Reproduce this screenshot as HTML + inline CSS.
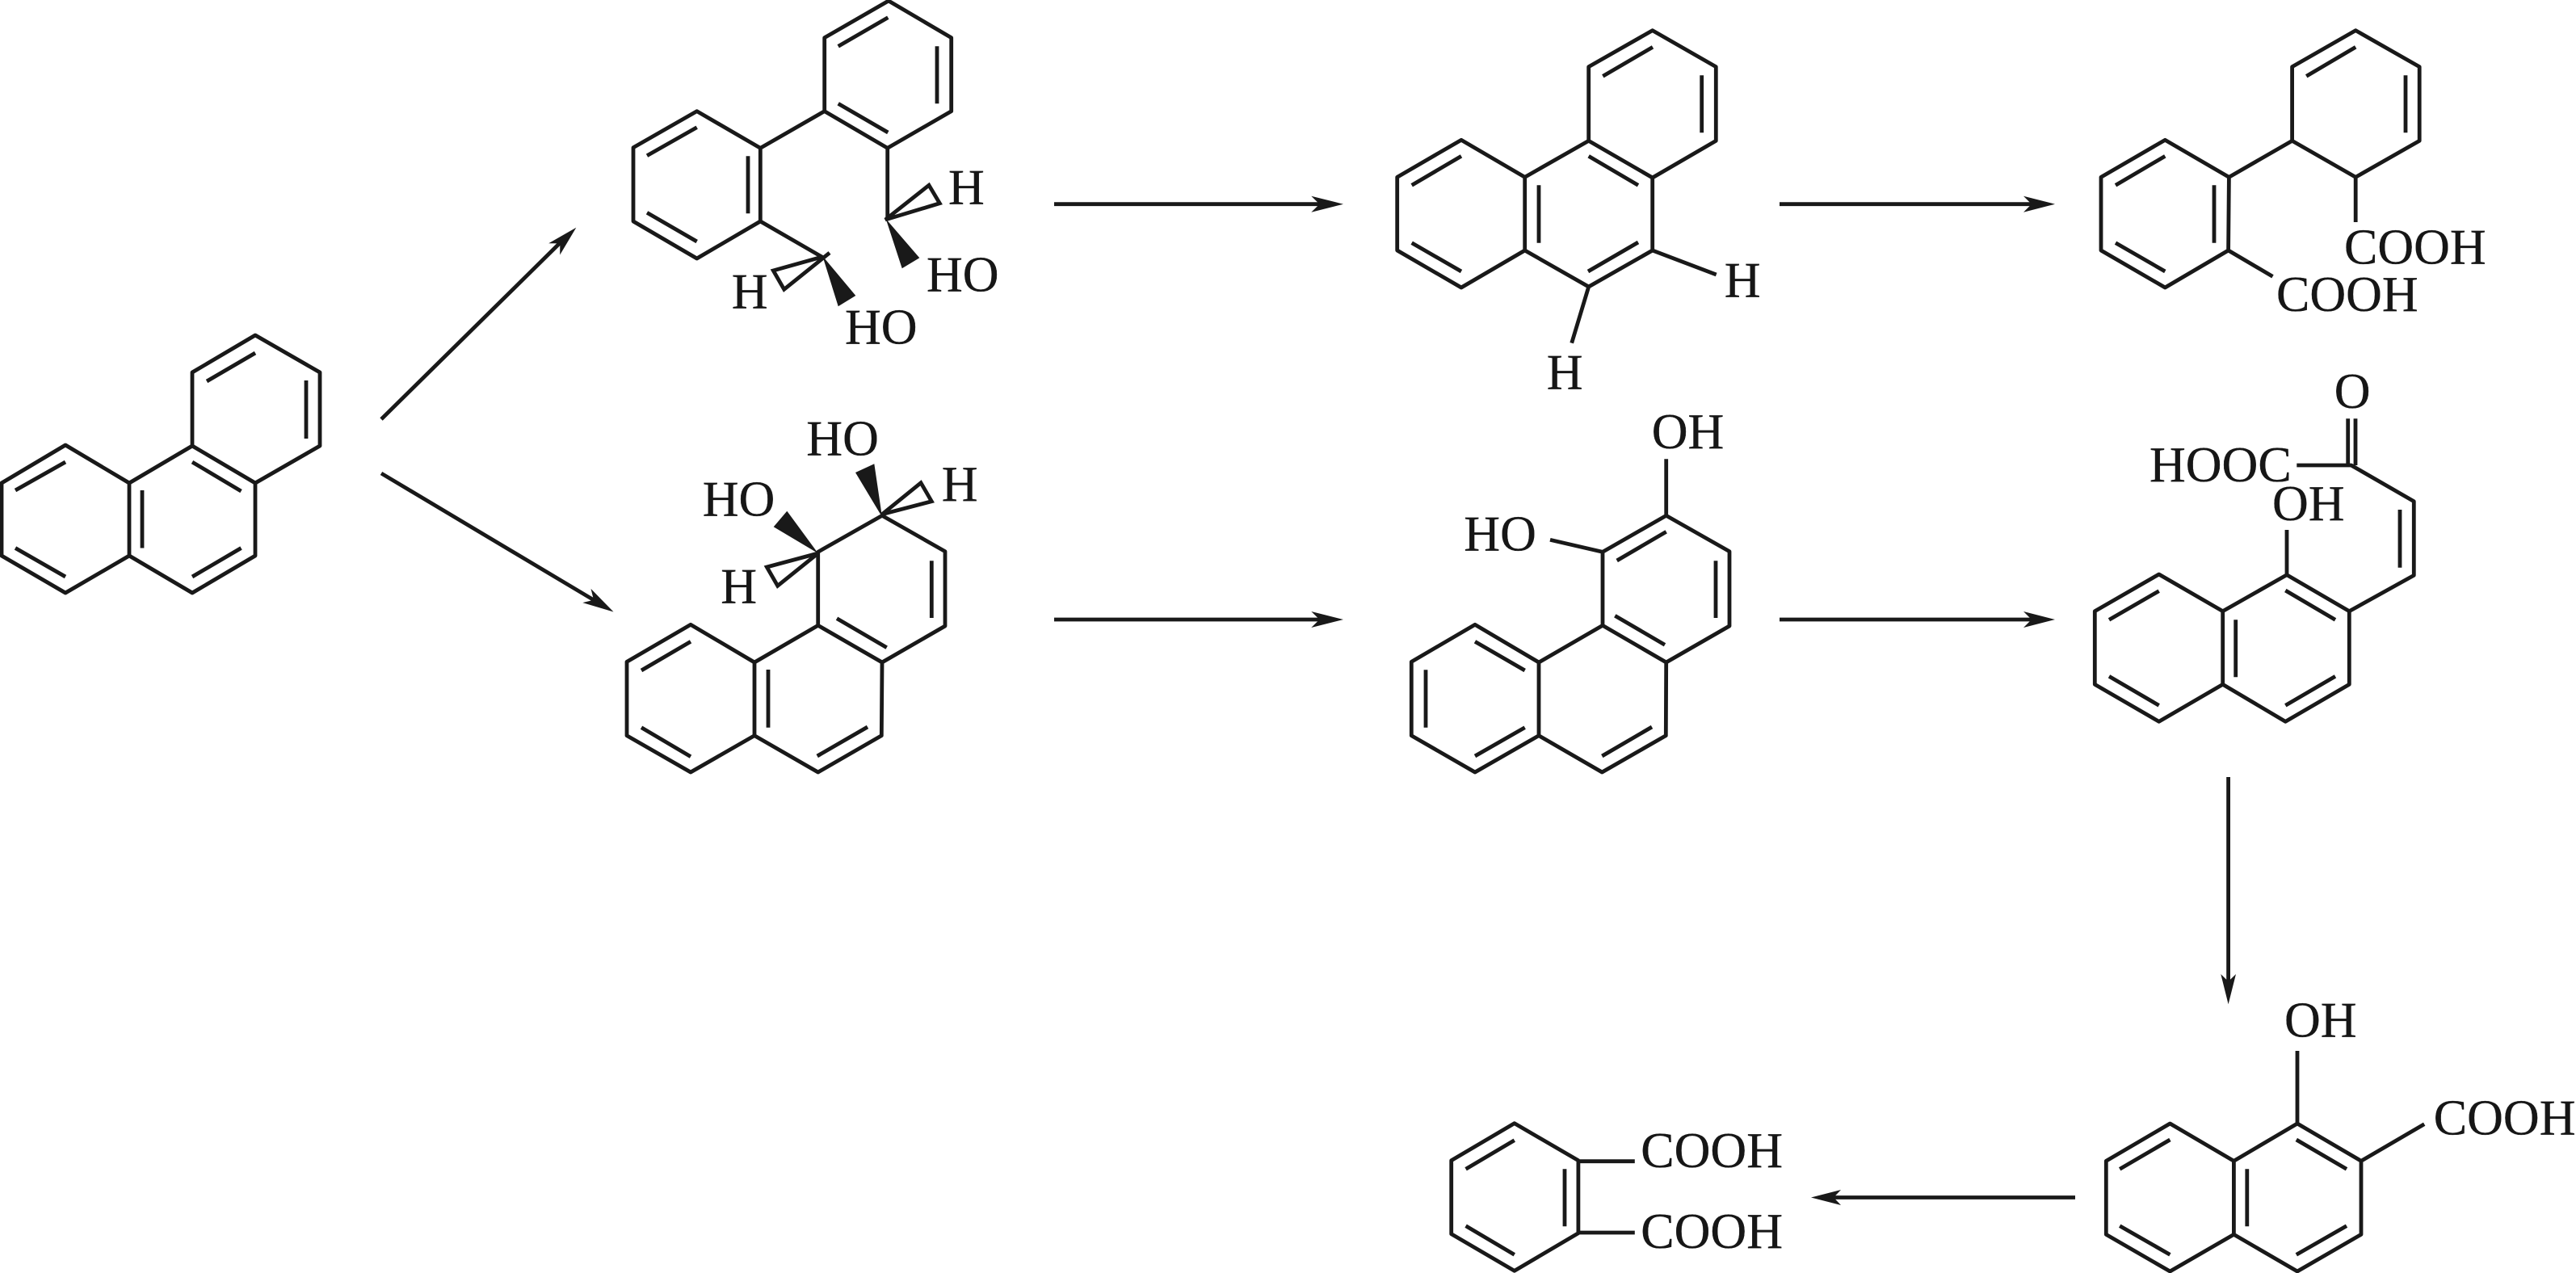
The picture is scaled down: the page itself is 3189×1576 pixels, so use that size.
<!DOCTYPE html>
<html>
<head>
<meta charset="utf-8">
<style>
html,body{margin:0;padding:0;background:#fff;}
svg{display:block;}
text{font-family:"Liberation Serif",serif;font-size:62px;fill:#161616;stroke:#161616;stroke-width:.35;}
.b{fill:none;stroke:#191919;stroke-width:4.8;stroke-linejoin:round;stroke-linecap:butt;}
.a{fill:#191919;stroke:none;}
.o{fill:none;stroke:#191919;stroke-width:4.8;stroke-linejoin:miter;}
</style>
</head>
<body>
<svg width="3189" height="1576" viewBox="0 0 3189 1576" xmlns="http://www.w3.org/2000/svg">
<rect width="3189" height="1576" fill="#fff"/>

<!-- Molecule 1: phenanthrene -->
<path class="b" d="M316 415L396 461L396 552L316 598L238 552L238 461Z M238 552L160 598L81 551L2 598L2 688L81 734L160 688L160 598 M160 688L238 734L316 688L316 598"/>
<path class="b" d="M256 472L316 437 M379 471L379 543 M238 572L298.5 608 M19 607L81 572 M176 607L176 678.5 M19 678.5L81 714 M238 714L298.5 678.5"/>

<!-- Arrows from molecule 1 -->
<path class="b" d="M472 519L695 299"/>
<polygon class="a" points="713.3,281.7 693.2,315.5 693.3,301.4 679.2,301.3"/>
<path class="b" d="M472 586L737 744"/>
<polygon class="a" points="759.5,757.5 731.5,728.9 735,742.7 721.3,746.1"/>

<!-- Molecule 2 -->
<path class="b" d="M1100 1L1177.7 46.7L1177.7 137.7L1098.7 183.3L1020.7 137.7L1020.7 46.7Z M862.7 137.7L941.3 183.3L941.3 274L862.7 320L784 274L784 182.7Z M941.3 183.3L1020.7 137.7 M1098.7 183.3L1098.7 272 M941.3 274L1018 318.3"/>
<path class="b" d="M1037.7 57.3L1099.3 21.7 M1160 57.3L1160 128.3 M1037.7 128.3L1099.3 164 M801 192.7L862.7 157.7 M926 193.3L926 264.3 M801 263.3L862.7 299"/>
<polygon class="o" points="1096,272 1150,229.3 1163.3,251.7"/>
<polygon class="a" points="1096.7,271 1138.3,319.3 1116.7,332.3"/>
<path class="o" d="M1027 313L970.7 358.3L957.3 335L1018 318"/>
<polygon class="a" points="1018.3,317 1059.3,366 1037.7,379.3"/>
<text x="1174" y="252.3">H</text>
<text x="1147" y="360.7">HO</text>
<text x="905.7" y="381.7">H</text>
<text x="1046" y="425.7">HO</text>

<!-- Molecule 3 -->
<path class="b" d="M1012.7 683.3L1092 638.3L1170 682.7L1170 775L1092 820L1012.7 774.3Z M1012.7 774.3L934 820L934 910.7L1012.7 956L1091.3 910.7L1092 820 M934 820L855 773.3L776 819.3L776 910.7L855 956L934 910.7"/>
<path class="b" d="M1153.3 694.3L1153.3 765 M1036 765.7L1097.7 801.7 M951 829L951 900.7 M1011.7 936L1074 900 M794 830L855 794.3 M794 900.7L855 936.7"/>
<polygon class="a" points="1092,640 1082.3,574.3 1059,585"/>
<polygon class="a" points="1012.7,685 974.3,632.7 957.7,652.3"/>
<polygon class="o" points="1092,636.7 1140,597.7 1153.3,620.7"/>
<polygon class="o" points="1012.7,685 949.3,702 962.7,725.3"/>
<text x="998.3" y="563.3">HO</text>
<text x="1165.7" y="620">H</text>
<text x="869.7" y="638.3">HO</text>
<text x="892.3" y="746.7">H</text>

<!-- Row arrows -->
<path class="b" d="M1305 252.7L1636 252.7"/>
<polygon class="a" points="1663,252.7 1623.3,242.7 1633.5,252.7 1623.3,262.7"/>
<path class="b" d="M2203 252.7L2517 252.7"/>
<polygon class="a" points="2544,252.7 2505,242.7 2515,252.7 2505,262.7"/>
<path class="b" d="M1305 767L1636 767"/>
<polygon class="a" points="1663,767 1623.3,757 1633.5,767 1623.3,777"/>
<path class="b" d="M2203 767L2517 767"/>
<polygon class="a" points="2544,767 2505,757 2515,767 2505,777"/>

<!-- Molecule 4 -->
<path class="b" d="M2045.7 37.7L2124.3 82.7L2124.3 174.3L2045.7 220L1966.7 174.3L1966.7 82.7Z M1966.7 174.3L1887.7 219.3L1887.7 310L1966.7 355L2045.7 310L2045.7 220 M1887.7 219.3L1809 173.3L1729.7 219.3L1729.7 310L1809 356L1887.7 310 M2045.7 310L2124.7 340 M1966.7 355L1945.7 424.7"/>
<path class="b" d="M1984.3 94.3L2046 58.3 M2106.7 93.3L2106.7 164.3 M1966.7 193.3L2028 229.3 M1905 229.3L1905 300.7 M1966 336L2028 300 M1747.7 229.3L1809 193.3 M1747.7 300.7L1809 336"/>
<text x="2134.7" y="367.3">H</text>
<text x="1914.7" y="481.7">H</text>

<!-- Molecule 5 -->
<path class="b" d="M2062.7 638.3L2141 682.7L2141 775L2062.7 820L1984 774.3L1984 683.3Z M1984 774.3L1905 820L1905 910.7L1983.3 956L2062.3 910.7L2062.7 820 M1905 820L1826 773.3L1747.3 819.3L1747.3 910.7L1826 956L1905 910.7 M2062.7 568.3L2062.7 638.3 M1919 668.3L1984 683.3"/>
<path class="b" d="M2001.7 694L2062.7 658.3 M2124 694.3L2124 765 M1999.3 762.3L2061 798.3 M1983.3 936L2045 900 M1826 794.3L1887.7 830 M1765 829.3L1765 900.7 M1826 936L1887.7 900.7"/>
<text x="2044.7" y="555">OH</text>
<text x="1812.3" y="681.7">HO</text>

<!-- Molecule 6 -->
<path class="b" d="M2916.2 37.7L2995.2 82.7L2995.2 174.3L2916.2 219.3L2837.6 174.3L2837.6 82.7Z M2680.3 173.3L2759.4 219.3L2758.6 310L2680.3 356L2601 310L2601 219.3Z M2759.4 219.3L2837.6 174.3 M2916.2 219.3L2916.2 275 M2758.6 310L2813.5 342.3"/>
<path class="b" d="M2855.2 94.3L2916.2 58.3 M2978 93.3L2978 164.3 M2619 229.3L2680.3 193.3 M2741 229.3L2741 300.7 M2619 300.7L2680.3 336"/>
<text x="2902" y="326.7">COOH</text>
<text x="2818" y="385">COOH</text>

<!-- Molecule 7 -->
<path class="b" d="M2906.7 518.3L2906.7 576 M2916 518.3L2916 576 M2843.3 576L2910.7 576L2988.3 620.7L2988.3 712.3L2908.3 756.7 M2971 631L2971 702.7 M2831 656L2831 711.7"/>
<path class="b" d="M2831 711.7L2908.3 756.7L2908.3 847.3L2829.3 893.3L2751.7 847.3L2751.7 756.7Z M2751.7 756.7L2672.7 711L2593.3 756.7L2593.3 847.3L2672.7 893.3L2751.7 847.3"/>
<path class="b" d="M2829.3 731L2891 767.3 M2767.7 767.3L2767.7 838.3 M2829.3 873.3L2891 837.3 M2611 767.3L2672.7 731.7 M2611 837.3L2672.7 873.3"/>
<text x="2889.7" y="505">O</text>
<text x="2661" y="596">HOOC</text>
<text x="2813" y="644">OH</text>

<!-- Vertical arrow -->
<path class="b" d="M2758.6 962L2758.6 1218"/>
<polygon class="a" points="2758.6,1243.3 2749.3,1206 2758.6,1215 2768,1206"/>

<!-- Molecule 8 -->
<path class="b" d="M2844 1391L2923 1437.3L2923 1528.3L2844 1574L2765.4 1528.3L2765.4 1437.3Z M2765.4 1437.3L2686.4 1391L2607.3 1437.3L2607.3 1528.3L2686.4 1574L2765.4 1528.3 M2844 1301L2844 1391 M2923 1437.3L3001.2 1391.7"/>
<path class="b" d="M2842.8 1411L2905 1447.3 M2781.8 1447.3L2781.8 1518.3 M2842.8 1553.3L2905 1517.7 M2624.2 1447.3L2686.4 1411 M2624.2 1517.7L2686.4 1553.3"/>
<text x="2828" y="1283.3">OH</text>
<text x="3012.8" y="1404.3">COOH</text>

<!-- Left arrow -->
<path class="b" d="M2569 1482.5L2268 1482.5"/>
<polygon class="a" points="2242,1482.5 2279,1473 2270,1482.5 2279,1492"/>

<!-- Molecule 9 -->
<path class="b" d="M1874.8 1390.7L1953.9 1436.7L1953.9 1526.7L1874.8 1573.3L1796.7 1527.7L1796.7 1436.7Z M1953.9 1437.7L2023.8 1437.7 M1953.9 1526L2023.8 1526"/>
<path class="b" d="M1814.6 1447.3L1874.8 1411.7 M1937 1447.3L1937 1518.3 M1814.6 1517.7L1874.8 1553.3"/>
<text x="2031.3" y="1445">COOH</text>
<text x="2031.3" y="1545">COOH</text>
</svg>
</body>
</html>
